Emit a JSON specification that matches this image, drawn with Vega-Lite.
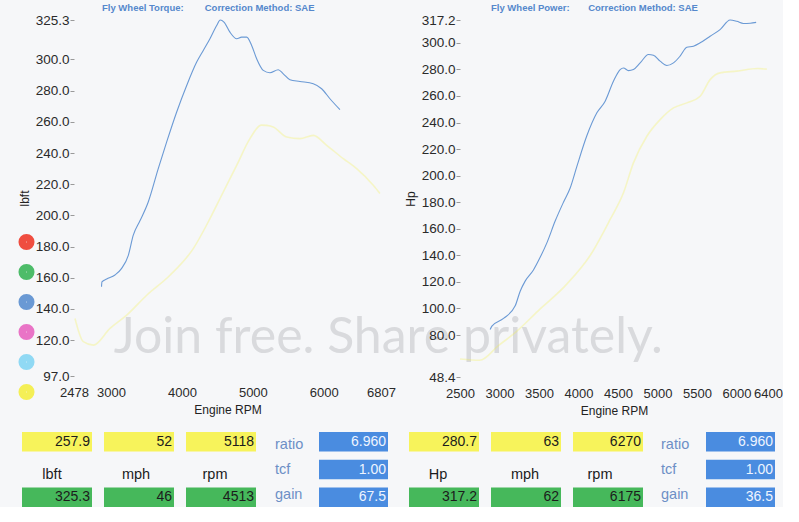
{
  "$schema": "https://vega.github.io/schema/vega-lite/v6.json",
  "background": "#f6f7f9",
  "padding": {"left": 18, "top": 2, "right": 0, "bottom": 0},
  "config": {
    "view": {"stroke": null},
    "font": "Liberation Sans",
    "axis": {"labelFont": "Liberation Sans", "labelColor": "#2a2a2a", "titleFont": "Liberation Sans", "titleColor": "#222222", "titleFontWeight": "normal", "grid": false, "domain": false, "labelOverlap": false},
    "title": {"font": "Liberation Sans", "fontSize": 9.5, "fontWeight": "bold", "color": "#5588cc", "anchor": "start", "frame": "group"}
  },
  "datasets": {
    "torque": [
      {"run": "Run 3", "rpm": 2866, "lbft": 154.2}, {"run": "Run 3", "rpm": 2872, "lbft": 157.4}, {"run": "Run 3", "rpm": 2939, "lbft": 159.2},
      {"run": "Run 3", "rpm": 3056, "lbft": 161.8}, {"run": "Run 3", "rpm": 3150, "lbft": 166.0}, {"run": "Run 3", "rpm": 3244, "lbft": 174.4},
      {"run": "Run 3", "rpm": 3314, "lbft": 187.3}, {"run": "Run 3", "rpm": 3408, "lbft": 196.5}, {"run": "Run 3", "rpm": 3525, "lbft": 208.6},
      {"run": "Run 3", "rpm": 3666, "lbft": 230.0}, {"run": "Run 3", "rpm": 3785, "lbft": 247.1}, {"run": "Run 3", "rpm": 3926, "lbft": 266.3},
      {"run": "Run 3", "rpm": 4067, "lbft": 283.3}, {"run": "Run 3", "rpm": 4208, "lbft": 298.3}, {"run": "Run 3", "rpm": 4301, "lbft": 305.8},
      {"run": "Run 3", "rpm": 4395, "lbft": 313.3}, {"run": "Run 3", "rpm": 4490, "lbft": 321.8}, {"run": "Run 3", "rpm": 4540, "lbft": 325.3},
      {"run": "Run 3", "rpm": 4593, "lbft": 324.0}, {"run": "Run 3", "rpm": 4677, "lbft": 317.5}, {"run": "Run 3", "rpm": 4772, "lbft": 313.3},
      {"run": "Run 3", "rpm": 4842, "lbft": 314.3}, {"run": "Run 3", "rpm": 4913, "lbft": 314.3}, {"run": "Run 3", "rpm": 4983, "lbft": 309.0},
      {"run": "Run 3", "rpm": 5054, "lbft": 300.4}, {"run": "Run 3", "rpm": 5147, "lbft": 293.0}, {"run": "Run 3", "rpm": 5241, "lbft": 291.5},
      {"run": "Run 3", "rpm": 5358, "lbft": 293.4}, {"run": "Run 3", "rpm": 5429, "lbft": 290.8}, {"run": "Run 3", "rpm": 5523, "lbft": 287.0},
      {"run": "Run 3", "rpm": 5664, "lbft": 285.9}, {"run": "Run 3", "rpm": 5852, "lbft": 284.4}, {"run": "Run 3", "rpm": 5970, "lbft": 281.2},
      {"run": "Run 3", "rpm": 6087, "lbft": 274.8}, {"run": "Run 3", "rpm": 6228, "lbft": 267.8},
      {"run": "Run 6", "rpm": 2492, "lbft": 133.9}, {"run": "Run 6", "rpm": 2609, "lbft": 119.0}, {"run": "Run 6", "rpm": 2750, "lbft": 116.8},
      {"run": "Run 6", "rpm": 2986, "lbft": 127.5}, {"run": "Run 6", "rpm": 3221, "lbft": 136.0}, {"run": "Run 6", "rpm": 3503, "lbft": 148.8},
      {"run": "Run 6", "rpm": 3831, "lbft": 161.6}, {"run": "Run 6", "rpm": 4160, "lbft": 178.7}, {"run": "Run 6", "rpm": 4395, "lbft": 197.9},
      {"run": "Run 6", "rpm": 4583, "lbft": 215.0}, {"run": "Run 6", "rpm": 4772, "lbft": 232.1}, {"run": "Run 6", "rpm": 4959, "lbft": 249.2},
      {"run": "Run 6", "rpm": 5118, "lbft": 257.9}, {"run": "Run 6", "rpm": 5195, "lbft": 257.7}, {"run": "Run 6", "rpm": 5288, "lbft": 256.7},
      {"run": "Run 6", "rpm": 5477, "lbft": 250.3}, {"run": "Run 6", "rpm": 5664, "lbft": 249.2}, {"run": "Run 6", "rpm": 5852, "lbft": 251.3},
      {"run": "Run 6", "rpm": 6041, "lbft": 244.9}, {"run": "Run 6", "rpm": 6275, "lbft": 236.4}, {"run": "Run 6", "rpm": 6464, "lbft": 230.0},
      {"run": "Run 6", "rpm": 6698, "lbft": 219.3}, {"run": "Run 6", "rpm": 6792, "lbft": 214.0}
    ],
    "power": [
      {"run": "Run 3", "rpm": 2882, "hp": 84.2}, {"run": "Run 3", "rpm": 2904, "hp": 86.7}, {"run": "Run 3", "rpm": 3051, "hp": 92.5},
      {"run": "Run 3", "rpm": 3199, "hp": 102.0}, {"run": "Run 3", "rpm": 3262, "hp": 113.0}, {"run": "Run 3", "rpm": 3325, "hp": 120.6},
      {"run": "Run 3", "rpm": 3430, "hp": 129.0}, {"run": "Run 3", "rpm": 3515, "hp": 138.5}, {"run": "Run 3", "rpm": 3600, "hp": 149.4},
      {"run": "Run 3", "rpm": 3705, "hp": 165.8}, {"run": "Run 3", "rpm": 3810, "hp": 180.0}, {"run": "Run 3", "rpm": 3895, "hp": 190.7},
      {"run": "Run 3", "rpm": 3980, "hp": 207.0}, {"run": "Run 3", "rpm": 4106, "hp": 230.0}, {"run": "Run 3", "rpm": 4233, "hp": 247.3},
      {"run": "Run 3", "rpm": 4338, "hp": 256.1}, {"run": "Run 3", "rpm": 4443, "hp": 271.1}, {"run": "Run 3", "rpm": 4528, "hp": 279.9},
      {"run": "Run 3", "rpm": 4570, "hp": 281.1}, {"run": "Run 3", "rpm": 4633, "hp": 279.1}, {"run": "Run 3", "rpm": 4696, "hp": 279.9},
      {"run": "Run 3", "rpm": 4781, "hp": 284.9}, {"run": "Run 3", "rpm": 4886, "hp": 291.2}, {"run": "Run 3", "rpm": 4949, "hp": 290.7},
      {"run": "Run 3", "rpm": 5034, "hp": 286.2}, {"run": "Run 3", "rpm": 5119, "hp": 282.9}, {"run": "Run 3", "rpm": 5203, "hp": 284.9},
      {"run": "Run 3", "rpm": 5287, "hp": 290.0}, {"run": "Run 3", "rpm": 5372, "hp": 296.7}, {"run": "Run 3", "rpm": 5456, "hp": 297.5},
      {"run": "Run 3", "rpm": 5541, "hp": 300.0}, {"run": "Run 3", "rpm": 5667, "hp": 305.0}, {"run": "Run 3", "rpm": 5793, "hp": 310.0},
      {"run": "Run 3", "rpm": 5920, "hp": 317.2}, {"run": "Run 3", "rpm": 6005, "hp": 316.2}, {"run": "Run 3", "rpm": 6089, "hp": 314.6},
      {"run": "Run 3", "rpm": 6175, "hp": 314.8}, {"run": "Run 3", "rpm": 6250, "hp": 315.4},
      {"run": "Run 6", "rpm": 2500, "hp": 62.0}, {"run": "Run 6", "rpm": 2750, "hp": 61.0}, {"run": "Run 6", "rpm": 2986, "hp": 72.0},
      {"run": "Run 6", "rpm": 3221, "hp": 83.0}, {"run": "Run 6", "rpm": 3503, "hp": 99.0}, {"run": "Run 6", "rpm": 3831, "hp": 117.0},
      {"run": "Run 6", "rpm": 4160, "hp": 141.0}, {"run": "Run 6", "rpm": 4401, "hp": 167.0}, {"run": "Run 6", "rpm": 4570, "hp": 187.1},
      {"run": "Run 6", "rpm": 4696, "hp": 209.6}, {"run": "Run 6", "rpm": 4866, "hp": 229.7}, {"run": "Run 6", "rpm": 5034, "hp": 242.2},
      {"run": "Run 6", "rpm": 5203, "hp": 251.0}, {"run": "Run 6", "rpm": 5372, "hp": 254.8}, {"run": "Run 6", "rpm": 5541, "hp": 259.8},
      {"run": "Run 6", "rpm": 5667, "hp": 272.3}, {"run": "Run 6", "rpm": 5793, "hp": 277.4}, {"run": "Run 6", "rpm": 6005, "hp": 278.7},
      {"run": "Run 6", "rpm": 6270, "hp": 280.7}, {"run": "Run 6", "rpm": 6385, "hp": 280.2}
    ],
    "watermark": [{"t": "Join free. Share privately.", "rpm": 6910, "lbft": 111.5}],
    "table": [
      {"col": "L1", "row": "cursor", "text": "257.9"}, {"col": "L1", "row": "label", "text": "lbft"}, {"col": "L1", "row": "peak", "text": "325.3"},
      {"col": "L2", "row": "cursor", "text": "52"}, {"col": "L2", "row": "label", "text": "mph"}, {"col": "L2", "row": "peak", "text": "46"},
      {"col": "L3", "row": "cursor", "text": "5118"}, {"col": "L3", "row": "label", "text": "rpm"}, {"col": "L3", "row": "peak", "text": "4513"},
      {"col": "LB", "row": "ratio", "text": "6.960"}, {"col": "LB", "row": "tcf", "text": "1.00"}, {"col": "LB", "row": "gain", "text": "67.5"},
      {"col": "R1", "row": "cursor", "text": "280.7"}, {"col": "R1", "row": "label", "text": "Hp"}, {"col": "R1", "row": "peak", "text": "317.2"},
      {"col": "R2", "row": "cursor", "text": "63"}, {"col": "R2", "row": "label", "text": "mph"}, {"col": "R2", "row": "peak", "text": "62"},
      {"col": "R3", "row": "cursor", "text": "6270"}, {"col": "R3", "row": "label", "text": "rpm"}, {"col": "R3", "row": "peak", "text": "6175"},
      {"col": "RB", "row": "ratio", "text": "6.960"}, {"col": "RB", "row": "tcf", "text": "1.00"}, {"col": "RB", "row": "gain", "text": "36.5"}
    ]
  },
  "vconcat": [
    {
      "hconcat": [
        {"width": 52, "height": 356, "data": {"values": []}, "mark": "rect"},
        {
          "hconcat": [
            {
              "width": 307, "height": 356,
              "title": {"text": "Fly Wheel Torque:\u00a0\u00a0\u00a0\u00a0\u00a0\u00a0\u00a0\u00a0Correction Method: SAE", "dx": 28, "offset": 1},
              "encoding": {
                "x": {"field": "rpm", "type": "quantitative", "scale": {"domain": [2478, 6807], "nice": false, "zero": false},
                      "axis": {"values": [2478, 3000, 4000, 5000, 6000, 6807], "format": "d", "title": "Engine RPM", "ticks": false, "labelPadding": 10, "labelFontSize": 13, "titleFontSize": 12, "titlePadding": 5, "labelFlush": false}},
                "y": {"field": "lbft", "type": "quantitative", "scale": {"domain": [97, 325.3], "nice": false, "zero": false},
                      "axis": {"values": [97, 120, 140, 160, 180, 200, 220, 240, 260, 280, 300, 325.3], "format": ".1f", "title": "lbft", "tickSize": 4, "tickColor": "#9a9a9a", "labelPadding": 1, "labelFontSize": 13.5, "titleFontSize": 12, "titlePadding": 4}}
              },
              "layer": [
                {
                  "data": {"name": "torque"},
                  "transform": [{"filter": "datum.run == 'Run 6'"}],
                  "mark": {"type": "line", "strokeWidth": 1.6, "opacity": 0.28, "interpolate": "monotone"},
                  "encoding": {"color": {"field": "run", "type": "nominal",
                    "scale": {"domain": ["Run 1", "Run 2", "Run 3", "Run 4", "Run 5", "Run 6"], "range": ["#ef3b2c", "#3bb65a", "#5b8fd0", "#e866c1", "#85d6f4", "#f4ef45"]},
                    "legend": {"orient": "none", "legendX": -56, "legendY": 213.5, "title": null, "labelExpr": "''", "labelFontSize": 1, "labelLimit": 1, "labelOffset": 0, "symbolType": "circle", "symbolSize": 57, "symbolStrokeWidth": 8.5, "symbolOpacity": 1, "rowPadding": -17, "padding": 0, "direction": "vertical"}}}
                },
                {
                  "data": {"name": "torque"},
                  "transform": [{"filter": "datum.run == 'Run 3'"}],
                  "mark": {"type": "line", "strokeWidth": 1.1, "opacity": 0.9, "interpolate": "monotone"},
                  "encoding": {"color": {"field": "run", "type": "nominal"}}
                },
                {
                  "data": {"name": "watermark"},
                  "mark": {"type": "text", "font": "Lato", "fontSize": 50, "color": "#d9dadd", "align": "center", "baseline": "alphabetic"},
                  "encoding": {"text": {"field": "t", "type": "nominal"}}
                }
              ]
            },
            {
              "width": 308, "height": 357,
              "title": {"text": "Fly Wheel Power:\u00a0\u00a0\u00a0\u00a0\u00a0\u00a0\u00a0Correction Method: SAE", "dx": 31, "offset": 1},
              "data": {"name": "power"},
              "encoding": {
                "x": {"field": "rpm", "type": "quantitative", "scale": {"domain": [2500, 6400], "nice": false, "zero": false},
                      "axis": {"values": [2500, 3000, 3500, 4000, 4500, 5000, 5500, 6000, 6400], "format": "d", "title": "Engine RPM", "ticks": false, "labelPadding": 10, "labelFontSize": 13, "titleFontSize": 12, "titlePadding": 5, "labelFlush": false}},
                "y": {"field": "hp", "type": "quantitative", "scale": {"domain": [48.4, 317.2], "nice": false, "zero": false},
                      "axis": {"values": [48.4, 80, 100, 120, 140, 160, 180, 200, 220, 240, 260, 280, 300, 317.2], "format": ".1f", "title": "Hp", "tickSize": 4, "tickColor": "#9a9a9a", "labelPadding": 1, "labelFontSize": 13.5, "titleFontSize": 12, "titlePadding": 4}}
              },
              "layer": [
                {
                  "transform": [{"filter": "datum.run == 'Run 6'"}],
                  "mark": {"type": "line", "strokeWidth": 1.6, "opacity": 0.28, "interpolate": "monotone"},
                  "encoding": {"color": {"field": "run", "type": "nominal", "legend": null}}
                },
                {
                  "transform": [{"filter": "datum.run == 'Run 3'"}],
                  "mark": {"type": "line", "strokeWidth": 1.1, "opacity": 0.9, "interpolate": "monotone"},
                  "encoding": {"color": {"field": "run", "type": "nominal", "legend": null}}
                }
              ]
            }
          ],
          "spacing": 79,
          "bounds": "flush",
          "resolve": {"legend": {"color": "independent"}}
        }
      ],
      "spacing": 0,
      "bounds": "flush",
      "resolve": {"legend": {"color": "independent"}}
    },
    {
      "hconcat": [
        {
          "hconcat": [
            {"width": 70, "height": 75, "data": {"name": "table"}, "transform": [{"filter": "datum.col == 'L1'"}],
             "encoding": {"y": {"field": "row", "type": "nominal", "scale": {"domain": ["cursor", "label", "peak"], "paddingInner": 0.3, "paddingOuter": 0}, "axis": null}},
             "layer": [
               {"transform": [{"filter": "datum.row == 'cursor'"}], "mark": {"type": "rect", "color": "#f7f35b"}},
               {"transform": [{"filter": "datum.row == 'peak'"}], "mark": {"type": "rect", "color": "#46b85b"}},
               {"transform": [{"filter": "datum.row != 'label'"}], "mark": {"type": "text", "align": "right", "dx": -2, "fontSize": 14, "color": "#1c1c1c"}, "encoding": {"x": {"datum": 1, "type": "quantitative", "scale": {"domain": [0, 1]}, "axis": null}, "text": {"field": "text"}}},
               {"transform": [{"filter": "datum.row == 'label'"}], "mark": {"type": "text", "fontSize": 14.5, "dx": -5, "dy": 5.5, "color": "#1c1c1c"}, "encoding": {"text": {"field": "text"}}}
             ]},
            {"width": 70, "height": 75, "data": {"name": "table"}, "transform": [{"filter": "datum.col == 'L2'"}],
             "encoding": {"y": {"field": "row", "type": "nominal", "scale": {"domain": ["cursor", "label", "peak"], "paddingInner": 0.3, "paddingOuter": 0}, "axis": null}},
             "layer": [
               {"transform": [{"filter": "datum.row == 'cursor'"}], "mark": {"type": "rect", "color": "#f7f35b"}},
               {"transform": [{"filter": "datum.row == 'peak'"}], "mark": {"type": "rect", "color": "#46b85b"}},
               {"transform": [{"filter": "datum.row != 'label'"}], "mark": {"type": "text", "align": "right", "dx": -2, "fontSize": 14, "color": "#1c1c1c"}, "encoding": {"x": {"datum": 1, "type": "quantitative", "scale": {"domain": [0, 1]}, "axis": null}, "text": {"field": "text"}}},
               {"transform": [{"filter": "datum.row == 'label'"}], "mark": {"type": "text", "fontSize": 14.5, "dx": -3, "dy": 5.5, "color": "#1c1c1c"}, "encoding": {"text": {"field": "text"}}}
             ]},
            {"width": 70, "height": 75, "data": {"name": "table"}, "transform": [{"filter": "datum.col == 'L3'"}],
             "encoding": {"y": {"field": "row", "type": "nominal", "scale": {"domain": ["cursor", "label", "peak"], "paddingInner": 0.3, "paddingOuter": 0}, "axis": null}},
             "layer": [
               {"transform": [{"filter": "datum.row == 'cursor'"}], "mark": {"type": "rect", "color": "#f7f35b"}},
               {"transform": [{"filter": "datum.row == 'peak'"}], "mark": {"type": "rect", "color": "#46b85b"}},
               {"transform": [{"filter": "datum.row != 'label'"}], "mark": {"type": "text", "align": "right", "dx": -2, "fontSize": 14, "color": "#1c1c1c"}, "encoding": {"x": {"datum": 1, "type": "quantitative", "scale": {"domain": [0, 1]}, "axis": null}, "text": {"field": "text"}}},
               {"transform": [{"filter": "datum.row == 'label'"}], "mark": {"type": "text", "fontSize": 14.5, "dx": -6, "dy": 5.5, "color": "#1c1c1c"}, "encoding": {"text": {"field": "text"}}}
             ]},
            {"width": 39, "height": 75, "data": {"name": "table"}, "transform": [{"filter": "datum.col == 'LB'"}],
             "encoding": {"y": {"field": "row", "type": "nominal", "scale": {"domain": ["ratio", "tcf", "gain"], "paddingInner": 0.3, "paddingOuter": 0}, "axis": null}},
             "layer": [
               {"mark": {"type": "text", "align": "left", "dx": 7, "dy": 0.5, "fontSize": 14.5, "color": "#6d8fc6"}, "encoding": {"x": {"datum": 0, "type": "quantitative", "scale": {"domain": [0, 1]}, "axis": null}, "text": {"field": "row"}}}
             ]},
            {"width": 69, "height": 75, "data": {"name": "table"}, "transform": [{"filter": "datum.col == 'LB'"}],
             "encoding": {"y": {"field": "row", "type": "nominal", "scale": {"domain": ["ratio", "tcf", "gain"], "paddingInner": 0.3, "paddingOuter": 0}, "axis": null}},
             "layer": [
               {"mark": {"type": "rect", "color": "#4a8ce0"}},
               {"mark": {"type": "text", "align": "right", "dx": -2, "fontSize": 14, "color": "#eef4ff"}, "encoding": {"x": {"datum": 1, "type": "quantitative", "scale": {"domain": [0, 1]}, "axis": null}, "text": {"field": "text"}}}
             ]}
          ],
          "spacing": 12
        },
        {
          "hconcat": [
            {"width": 70, "height": 75, "data": {"name": "table"}, "transform": [{"filter": "datum.col == 'R1'"}],
             "encoding": {"y": {"field": "row", "type": "nominal", "scale": {"domain": ["cursor", "label", "peak"], "paddingInner": 0.3, "paddingOuter": 0}, "axis": null}},
             "layer": [
               {"transform": [{"filter": "datum.row == 'cursor'"}], "mark": {"type": "rect", "color": "#f7f35b"}},
               {"transform": [{"filter": "datum.row == 'peak'"}], "mark": {"type": "rect", "color": "#46b85b"}},
               {"transform": [{"filter": "datum.row != 'label'"}], "mark": {"type": "text", "align": "right", "dx": -2, "fontSize": 14, "color": "#1c1c1c"}, "encoding": {"x": {"datum": 1, "type": "quantitative", "scale": {"domain": [0, 1]}, "axis": null}, "text": {"field": "text"}}},
               {"transform": [{"filter": "datum.row == 'label'"}], "mark": {"type": "text", "fontSize": 14.5, "dx": -6, "dy": 5.5, "color": "#1c1c1c"}, "encoding": {"text": {"field": "text"}}}
             ]},
            {"width": 70, "height": 75, "data": {"name": "table"}, "transform": [{"filter": "datum.col == 'R2'"}],
             "encoding": {"y": {"field": "row", "type": "nominal", "scale": {"domain": ["cursor", "label", "peak"], "paddingInner": 0.3, "paddingOuter": 0}, "axis": null}},
             "layer": [
               {"transform": [{"filter": "datum.row == 'cursor'"}], "mark": {"type": "rect", "color": "#f7f35b"}},
               {"transform": [{"filter": "datum.row == 'peak'"}], "mark": {"type": "rect", "color": "#46b85b"}},
               {"transform": [{"filter": "datum.row != 'label'"}], "mark": {"type": "text", "align": "right", "dx": -2, "fontSize": 14, "color": "#1c1c1c"}, "encoding": {"x": {"datum": 1, "type": "quantitative", "scale": {"domain": [0, 1]}, "axis": null}, "text": {"field": "text"}}},
               {"transform": [{"filter": "datum.row == 'label'"}], "mark": {"type": "text", "fontSize": 14.5, "dx": -1, "dy": 5.5, "color": "#1c1c1c"}, "encoding": {"text": {"field": "text"}}}
             ]},
            {"width": 70, "height": 75, "data": {"name": "table"}, "transform": [{"filter": "datum.col == 'R3'"}],
             "encoding": {"y": {"field": "row", "type": "nominal", "scale": {"domain": ["cursor", "label", "peak"], "paddingInner": 0.3, "paddingOuter": 0}, "axis": null}},
             "layer": [
               {"transform": [{"filter": "datum.row == 'cursor'"}], "mark": {"type": "rect", "color": "#f7f35b"}},
               {"transform": [{"filter": "datum.row == 'peak'"}], "mark": {"type": "rect", "color": "#46b85b"}},
               {"transform": [{"filter": "datum.row != 'label'"}], "mark": {"type": "text", "align": "right", "dx": -2, "fontSize": 14, "color": "#1c1c1c"}, "encoding": {"x": {"datum": 1, "type": "quantitative", "scale": {"domain": [0, 1]}, "axis": null}, "text": {"field": "text"}}},
               {"transform": [{"filter": "datum.row == 'label'"}], "mark": {"type": "text", "fontSize": 14.5, "dx": -8, "dy": 5.5, "color": "#1c1c1c"}, "encoding": {"text": {"field": "text"}}}
             ]},
            {"width": 39, "height": 75, "data": {"name": "table"}, "transform": [{"filter": "datum.col == 'RB'"}],
             "encoding": {"y": {"field": "row", "type": "nominal", "scale": {"domain": ["ratio", "tcf", "gain"], "paddingInner": 0.3, "paddingOuter": 0}, "axis": null}},
             "layer": [
               {"mark": {"type": "text", "align": "left", "dx": 6, "dy": 0.5, "fontSize": 14.5, "color": "#6d8fc6"}, "encoding": {"x": {"datum": 0, "type": "quantitative", "scale": {"domain": [0, 1]}, "axis": null}, "text": {"field": "row"}}}
             ]},
            {"width": 69, "height": 75, "data": {"name": "table"}, "transform": [{"filter": "datum.col == 'RB'"}],
             "encoding": {"y": {"field": "row", "type": "nominal", "scale": {"domain": ["ratio", "tcf", "gain"], "paddingInner": 0.3, "paddingOuter": 0}, "axis": null}},
             "layer": [
               {"mark": {"type": "rect", "color": "#4a8ce0"}},
               {"mark": {"type": "text", "align": "right", "dx": -2, "fontSize": 14, "color": "#eef4ff"}, "encoding": {"x": {"datum": 1, "type": "quantitative", "scale": {"domain": [0, 1]}, "axis": null}, "text": {"field": "text"}}}
             ]}
          ],
          "spacing": 12
        }
      ],
      "spacing": 21
    }
  ],
  "spacing": 16
}
